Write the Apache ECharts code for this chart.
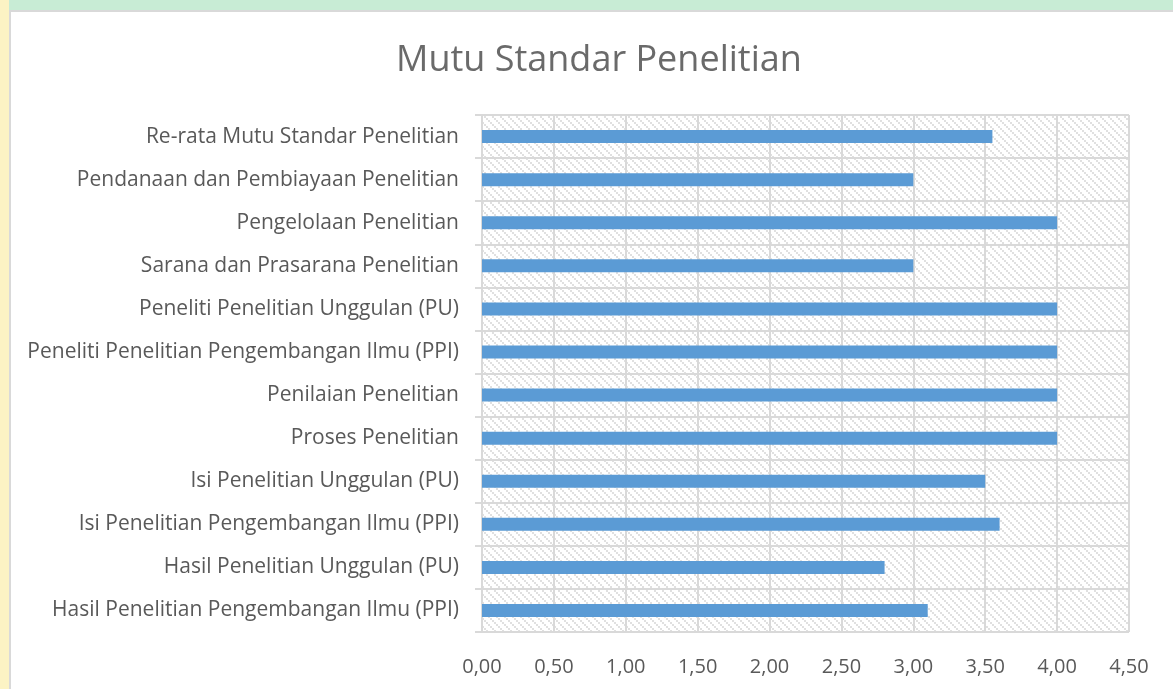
<!DOCTYPE html>
<html>
<head>
<meta charset="utf-8">
<script src="https://cdn.jsdelivr.net/npm/echarts@6/dist/echarts.min.js"></script>
<style>
    html, body { margin: 0; padding: 0; }
    body { width: 1173px; height: 689px; background: #c8ecd5; position: relative; overflow: hidden; }
    #strip { position: absolute; left: 0; top: 0; width: 9px; height: 689px; background: #fcf3c4; }
    #box { position: absolute; left: 9px; top: 10px; width: 1170px; height: 690px; background: #fff; border-left: 2px solid #d9d9d9; border-top: 2px solid #d9d9d9; }
    #chart { position: absolute; left: 0; top: 0; width: 1173px; height: 689px; }
</style>
</head>
<body>
<div id="strip"></div>
<div id="box"></div>
<div id="chart"></div>
<script>
// kategori dari bawah ke atas (urutan sumbu kategori ECharts)
const categories = [
    "Hasil Penelitian Pengembangan Ilmu (PPI)",
    "Hasil Penelitian Unggulan (PU)",
    "Isi Penelitian Pengembangan Ilmu (PPI)",
    "Isi Penelitian Unggulan (PU)",
    "Proses Penelitian",
    "Penilaian Penelitian",
    "Peneliti Penelitian Pengembangan Ilmu (PPI)",
    "Peneliti Penelitian Unggulan (PU)",
    "Sarana dan Prasarana Penelitian",
    "Pengelolaan Penelitian",
    "Pendanaan dan Pembiayaan Penelitian",
    "Re-rata Mutu Standar Penelitian"
];
const values = [3.1, 2.8, 3.6, 3.5, 4.0, 4.0, 4.0, 4.0, 3.0, 4.0, 3.0, 3.55];
const xMin = 0;
const xMax = 4.5;
const xStep = 0.5;

const colorBar = "#5b9bd5";
const colorGrid = "#d9d9d9";
const colorText = "#595959";
const font = "Open Sans";

// pola arsir diagonal untuk latar area plot
function makeHatch() {
    const c = document.createElement("canvas");
    c.width = 8;
    c.height = 8;
    const ctx = c.getContext("2d");
    ctx.fillStyle = "#ffffff";
    ctx.fillRect(0, 0, 8, 8);
    ctx.fillStyle = "#e0e0e0";
    for (let k = 0; k < 4; k++) {
        ctx.fillRect(k * 2, k * 2, 2, 2);
    }
    return c;
}

const chart = echarts.init(document.getElementById("chart"));
chart.setOption({
    animation: false,
    title: {
        text: "Mutu Standar Penelitian",
        left: 391,
        top: 38,
        textStyle: {
            color: "#6a6a6a",
            fontFamily: font,
            fontSize: 36,
            fontWeight: "normal"
        }
    },
    grid: {
        left: 482,
        top: 115,
        width: 647,
        height: 517,
        show: true,
        borderWidth: 0,
        backgroundColor: { image: makeHatch(), repeat: "repeat" }
    },
    xAxis: {
        type: "value",
        min: xMin,
        max: xMax,
        interval: xStep,
        axisLine: { show: false },
        axisTick: { show: false },
        axisLabel: {
            margin: 25,
            color: colorText,
            fontFamily: font,
            fontSize: 20,
            formatter: v => v.toFixed(2).replace(".", ",")
        },
        splitLine: {
            show: true,
            lineStyle: { color: colorGrid, width: 2 }
        }
    },
    yAxis: {
        type: "category",
        data: categories,
        axisLine: { show: true, lineStyle: { color: colorGrid, width: 2 } },
        axisTick: { show: true, length: 7, lineStyle: { color: colorGrid, width: 2 } },
        axisLabel: {
            margin: 23,
            padding: [3, 0, 0, 0],
            color: colorText,
            fontFamily: font,
            fontSize: 21
        },
        splitLine: {
            show: true,
            lineStyle: { color: colorGrid, width: 2 }
        }
    },
    series: [
        {
            type: "bar",
            data: values,
            barWidth: 13,
            itemStyle: { color: colorBar }
        }
    ]
});
</script>
</body>
</html>
